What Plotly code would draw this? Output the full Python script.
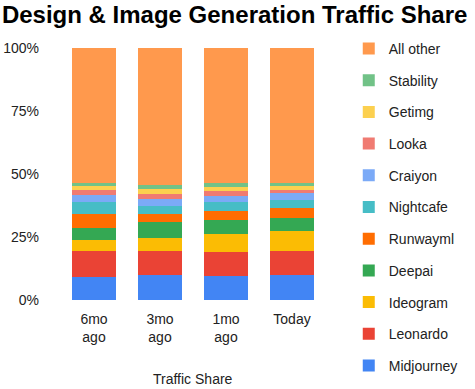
import plotly.graph_objects as go

categories = ["6mo<br>ago", "3mo<br>ago", "1mo<br>ago", "Today"]
series_names = ["Midjourney", "Leonardo", "Ideogram", "Deepai", "Runwayml",
                "Nightcafe", "Craiyon", "Looka", "Getimg", "Stability", "All other"]
midjourney = [9.0, 9.9, 9.7, 9.9]
leonardo = [10.6, 9.7, 9.2, 9.7]
ideogram = [4.2, 5.1, 7.4, 7.9]
deepai = [4.8, 6.4, 5.6, 5.2]
runwayml = [5.7, 3.2, 3.4, 3.9]
nightcafe = [4.7, 3.0, 3.7, 3.1]
craiyon = [2.7, 2.8, 2.4, 2.6]
looka = [2.0, 2.1, 2.0, 1.5]
getimg = [1.5, 1.7, 1.6, 1.4]
stability = [1.2, 1.6, 1.6, 1.4]
all_other = [53.6, 54.5, 53.4, 53.4]
series_values = [midjourney, leonardo, ideogram, deepai, runwayml, nightcafe,
                 craiyon, looka, getimg, stability, all_other]
colors = ["#4285F4", "#EA4335", "#FBBC04", "#34A853", "#FF6D01", "#46BDC6",
          "#7BAAF7", "#F07B72", "#FCD04F", "#71C287", "#FF994D"]
tick_vals = [0, 25, 50, 75, 100]
tick_text = ["0%", "25%", "50%", "75%", "100%"]

fig = go.Figure()
for i, (name, vals, col) in enumerate(zip(series_names, series_values, colors)):
    fig.add_trace(go.Bar(x=categories, y=vals, name=name, marker_color=col,
                         marker_line_width=0, legendgroup=name,
                         legendrank=1000 - i))

fig.add_annotation(text="Traffic Share", xref="paper", yref="paper",
                   x=0.5, y=-0.3135, xanchor="center", yanchor="middle",
                   showarrow=False, font=dict(size=14, color="#222222"))

fig.update_layout(
    barmode="stack",
    bargap=0.34,
    width=475, height=389,
    margin=dict(l=61, r=147, t=48, b=89),
    paper_bgcolor="white", plot_bgcolor="white",
    font=dict(family="Liberation Sans, Arial, sans-serif", size=14, color="#222222"),
    title=dict(text="<b>Design & Image Generation Traffic Share</b>",
               x=0.004, xanchor="left", y=0.962, yanchor="middle",
               font=dict(size=24, color="#000000")),
    legend=dict(traceorder="grouped", x=1.09, xanchor="left", y=1.06, yanchor="top",
                tracegroupgap=10.5, font=dict(size=14, color="#222222"),
                itemwidth=30, maxheight=389),
    xaxis=dict(showgrid=False, showline=False, ticks="", tickfont=dict(size=14),
               ticklabelstandoff=9, automargin=False),
    yaxis=dict(range=[0, 100], tickvals=tick_vals, ticktext=tick_text,
               showgrid=False, zeroline=False, showline=False, ticks="",
               tickfont=dict(size=14), ticklabelstandoff=21, automargin=False),
)

fig.write_html("out.html")
